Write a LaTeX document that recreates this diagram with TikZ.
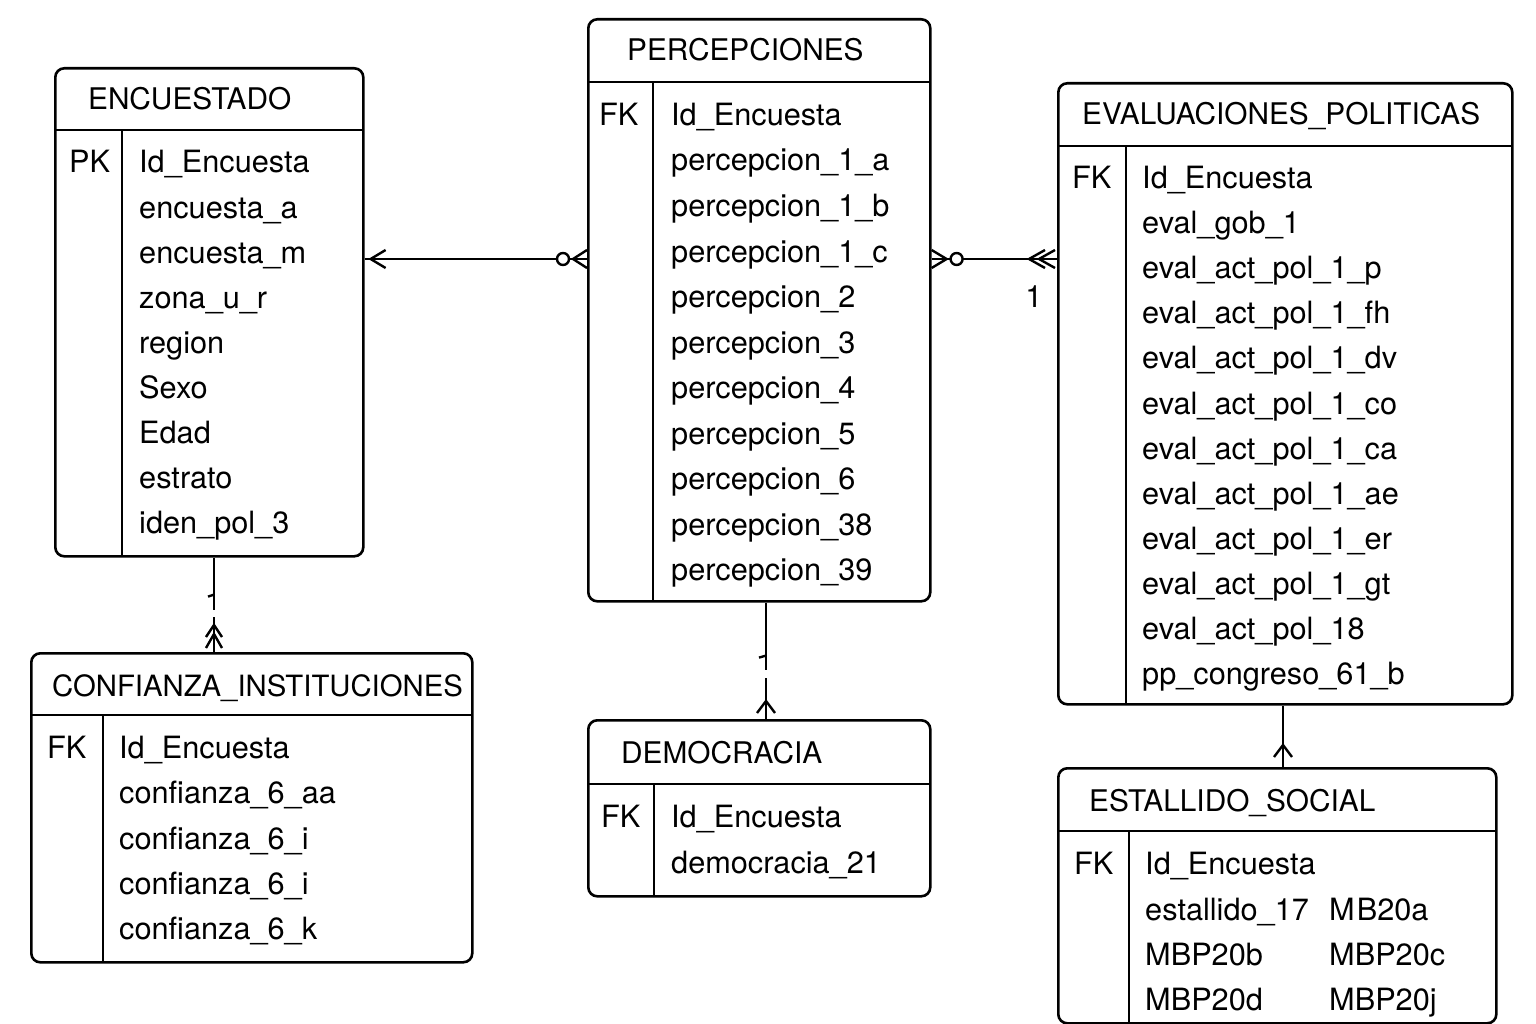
\documentclass[tikz,border=0pt]{standalone}
\usepackage{fontspec}
\setmainfont{TeX Gyre Heros}
\begin{document}
\begin{tikzpicture}[x=1pt,y=-1pt,
  tbl/.style={draw, line width=2.6pt, rounded corners=9pt, anchor=north west, inner sep=0pt},
  sep/.style={line width=2.6pt},
  txt/.style={anchor=base west, inner sep=0pt, font=\fontsize{30.7}{36}\selectfont},
  ttl/.style={anchor=base west, inner sep=0pt, font=\fontsize{29.8}{36}\selectfont},
  conn/.style={line width=2.4pt}]
\useasboundingbox (0,0) rectangle (1536,1024);

% ---------- tables ----------
\node[tbl, minimum width=308pt, minimum height=488pt] (enc) at (54,67) {};
\node[tbl, minimum width=342pt, minimum height=582pt] (per) at (587,18) {};
\node[tbl, minimum width=454pt, minimum height=621pt] (eva) at (1057,82) {};
\node[tbl, minimum width=441pt, minimum height=309pt] (con) at (30,652) {};
\node[tbl, minimum width=342pt, minimum height=176pt] (dem) at (587,719) {};
\node[tbl, minimum width=438pt, minimum height=255pt] (est) at (1057,767) {};

% header lines and dividers
\draw[sep] (54,130) -- (362,130);  \draw[sep] (122,130) -- (122,555);
\draw[sep] (587,82) -- (929,82);   \draw[sep] (653,82) -- (653,600);
\draw[sep] (1057,146) -- (1511,146); \draw[sep] (1126,146) -- (1126,703);
\draw[sep] (30,715) -- (471,715);  \draw[sep] (103,715) -- (103,961);
\draw[sep] (587,784) -- (929,784); \draw[sep] (654,784) -- (654,895);
\draw[sep] (1057,831) -- (1495,831); \draw[sep] (1129,831) -- (1129,1022);

% ---------- titles ----------
\node[ttl] (encT) at (88,110) {ENCUESTADO};
\node[ttl] (perT) at (627,61) {PERCEPCIONES};
\node[ttl] (evaT) at (1082,125) {EVALUACIONES\_POLITICAS};
\node[ttl, font=\fontsize{29.3}{36}\selectfont] (conT) at (52,696) {CONFIANZA\_INSTITUCIONES};
\node[ttl] (demT) at (621,763) {DEMOCRACIA};
\node[ttl] (estT) at (1089,811) {ESTALLIDO\_SOCIAL};

% ---------- keys ----------
\node[txt] (encK) at (69,173) {PK};
\node[txt] (perK) at (599,125.5) {FK};
\node[txt] (evaK) at (1072,188.5) {FK};
\node[txt] (conK) at (47,758.5) {FK};
\node[txt] (demK) at (601,827.5) {FK};
\node[txt] (estK) at (1074,874.5) {FK};

% ---------- fields ----------
\foreach \t [count=\i from 0] in {Id\_Encuesta,encuesta\_a,encuesta\_m,zona\_u\_r,region,Sexo,Edad,estrato,iden\_pol\_3}
  \node[txt] (encR\i) at (139,173+45.1*\i) {\t};
\foreach \t [count=\i from 0] in {Id\_Encuesta,percepcion\_1\_a,percepcion\_1\_b,percepcion\_1\_c,percepcion\_2,percepcion\_3,percepcion\_4,percepcion\_5,percepcion\_6,percepcion\_38,percepcion\_39}
  \node[txt] (perR\i) at (671,125.5+45.5*\i) {\t};
\foreach \t [count=\i from 0] in {Id\_Encuesta,eval\_gob\_1,eval\_act\_pol\_1\_p,eval\_act\_pol\_1\_fh,eval\_act\_pol\_1\_dv,eval\_act\_pol\_1\_co,eval\_act\_pol\_1\_ca,eval\_act\_pol\_1\_ae,eval\_act\_pol\_1\_er,eval\_act\_pol\_1\_gt,eval\_act\_pol\_18,pp\_congreso\_61\_b}
  \node[txt] (evaR\i) at (1142,188.5+45.1*\i) {\t};
\foreach \t [count=\i from 0] in {Id\_Encuesta,confianza\_6\_aa,confianza\_6\_i,confianza\_6\_i,confianza\_6\_k}
  \node[txt] (conR\i) at (119,758.5+45.25*\i) {\t};
\foreach \t [count=\i from 0] in {Id\_Encuesta,democracia\_21}
  \node[txt] (demR\i) at (671,827.5+46*\i) {\t};
\node[txt] (estR0) at (1145,874.5) {Id\_Encuesta};
\node[txt] (estR1) at (1145,920) {estallido\_17};
\node[txt] (estR2) at (1145,965.3) {MBP20b};
\node[txt] (estR3) at (1145,1010.5) {MBP20d};
\node[txt] (estS1) at (1329,920) {M\kern2pt B20a};
\node[txt] (estS2) at (1329,965.3) {MBP20c};
\node[txt] (estS3) at (1329,1010.5) {MBP20j};

% ---------- connectors ----------
\coordinate (y1) at (0,259);
\coordinate (x3) at (214,0);
\coordinate (x4) at (766,0);
\coordinate (x5) at (1283,0);

% ENCUESTADO -- PERCEPCIONES
\coordinate (A) at (enc.east |- y1);
\coordinate (B) at (per.west |- y1);
\draw[conn] (A) -- (B);
\draw[conn] (A) ++(21,-9) -- ++(-15,9) -- ++(15,9);
\draw[conn] (B) ++(0,-9) -- ++(-14,9) -- ++(14,9);
\draw[conn, fill=white] (B) ++(-24,0) circle (6);

% PERCEPCIONES -- EVALUACIONES
\coordinate (C) at (per.east |- y1);
\coordinate (D) at (eva.west |- y1);
\draw[conn] (C) -- (D);
\draw[conn] (C) ++(0,-9) -- ++(15,9) -- ++(-15,9);
\draw[conn, fill=white] (C) ++(25,0) circle (6);
\draw[conn] (D) ++(-12,-9) -- ++(-16,9) -- ++(16,9);
\draw[conn] (D) ++(-2,-9) -- ++(-16,9) -- ++(16,9);
\node[txt, anchor=center] (lbl1) at (1034,297) {1};

% ENCUESTADO -- CONFIANZA
\coordinate (E) at (x3 |- enc.south);
\coordinate (F) at (x3 |- con.north);
\draw[conn] (E) -- ++(0,52);
\draw[conn] (E) ++(0,37) -- ++(-6,2);
\draw[conn] (F) ++(0,-35) -- (F);
\draw[conn] (F) ++(-8,-15) -- ++(8,-12) -- ++(8,12);
\draw[conn] (F) ++(-8,-4) -- ++(8,-14) -- ++(8,14);

% PERCEPCIONES -- DEMOCRACIA
\coordinate (G) at (x4 |- per.south);
\coordinate (H) at (x4 |- dem.north);
\draw[conn] (G) -- ++(0,67);
\draw[conn] (G) ++(0,53) -- ++(-7,2);
\draw[conn] (H) ++(0,-41) -- (H);
\draw[conn] (H) ++(-9,-6) -- ++(9,-12) -- ++(9,12);

% EVALUACIONES -- ESTALLIDO
\coordinate (I) at (x5 |- eva.south);
\coordinate (J) at (x5 |- est.north);
\draw[conn] (I) -- (J);
\draw[conn] (J) ++(-9,-10) -- ++(9,-12) -- ++(9,12);
\end{tikzpicture}
\end{document}
